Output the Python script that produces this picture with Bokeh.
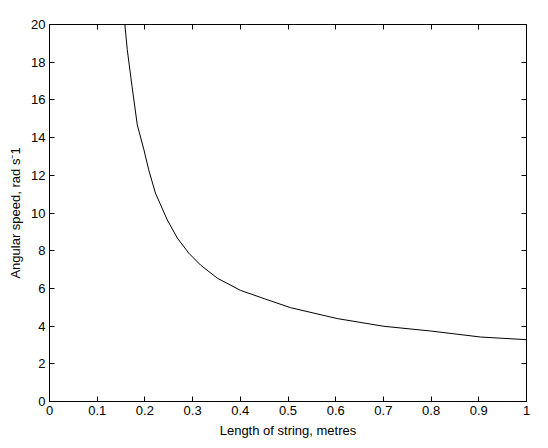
from bokeh.plotting import figure
from bokeh.models import LinearAxis, FixedTicker, Range1d
from bokeh.embed import file_html
from bokeh.resources import INLINE

# data
length_m = [0.158, 0.163, 0.173, 0.184, 0.198, 0.208, 0.222, 0.247, 0.268, 0.292, 0.317, 0.352,
            0.400, 0.453, 0.505, 0.603, 0.701, 0.799, 0.904, 1.0]
omega = [20.0, 18.67, 16.72, 14.68, 13.35, 12.29, 11.06, 9.63, 8.67, 7.87, 7.23, 6.54,
         5.90, 5.43, 4.98, 4.40, 3.99, 3.74, 3.42, 3.28]

x_ticks = [0, 0.1, 0.2, 0.3, 0.4, 0.5, 0.6, 0.7, 0.8, 0.9, 1.0]
x_tick_labels = ["0", "0.1", "0.2", "0.3", "0.4", "0.5", "0.6", "0.7", "0.8", "0.9", "1"]
y_ticks = [0, 2, 4, 6, 8, 10, 12, 14, 16, 18, 20]

FONT = "Liberation Sans"

p = figure(width=540, height=440, output_backend="svg", toolbar_location=None,
           x_range=Range1d(0, 1), y_range=Range1d(0, 20),
           min_border_left=49, min_border_right=14, min_border_top=24, min_border_bottom=39)
p.xgrid.visible = False
p.ygrid.visible = False
p.outline_line_color = "black"
p.outline_line_width = 1
p.background_fill_color = "white"
p.border_fill_color = "white"

p.line(length_m, omega, line_color="black", line_width=1)

def style(ax):
    ax.axis_line_color = "black"
    ax.major_tick_line_color = "black"
    ax.major_tick_in = 5
    ax.major_tick_out = 0
    ax.minor_tick_line_color = None
    ax.major_label_text_font = FONT
    ax.major_label_text_font_size = "13px"
    ax.major_label_text_color = "black"
    ax.axis_label_text_font = FONT
    ax.axis_label_text_font_size = "13px"
    ax.axis_label_text_font_style = "normal"
    ax.axis_label_text_color = "black"

xa = p.xaxis[0]
xa.ticker = FixedTicker(ticks=x_ticks)
xa.major_label_overrides = {t: l for t, l in zip(x_ticks, x_tick_labels)}
xa.axis_label = "Length of string, metres"
xa.axis_label_standoff = 5
xa.major_label_standoff = 4
style(xa)

ya = p.yaxis[0]
ya.ticker = FixedTicker(ticks=y_ticks)
ya.axis_label = "Angular speed, rad s\u207b1"
ya.axis_label_standoff = 5
ya.major_label_standoff = 4
style(ya)

top = LinearAxis(ticker=FixedTicker(ticks=x_ticks))
style(top)
top.major_label_overrides = {t: "" for t in x_ticks}
top.major_label_standoff = 0
p.add_layout(top, "above")
right = LinearAxis(ticker=FixedTicker(ticks=y_ticks))
style(right)
right.major_label_overrides = {t: "" for t in y_ticks}
right.major_label_standoff = 0
p.add_layout(right, "right")

open("out.html", "w").write(file_html(p, INLINE))
